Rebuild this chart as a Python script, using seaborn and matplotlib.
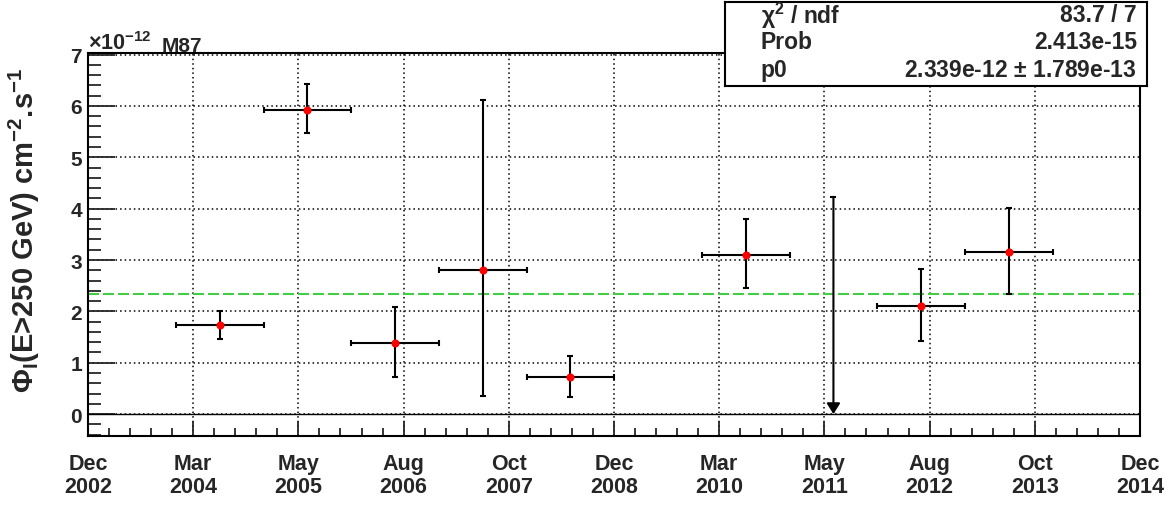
import numpy as np
import pandas as pd
import matplotlib
matplotlib.use("Agg")
import matplotlib.pyplot as plt
import matplotlib.ticker as mticker
import seaborn as sns

# ---- data (flux in units of 1e-12 cm^-2 s^-1, time in decimal years) ----
season_mid = [2004.42, 2005.42, 2006.42, 2007.42, 2008.42, 2010.42, 2012.42, 2013.42]
half_width = [0.5, 0.5, 0.5, 0.5, 0.5, 0.5, 0.5, 0.5]
flux = [1.74, 5.93, 1.38, 2.80, 0.72, 3.10, 2.10, 3.16]
flux_low = [1.47, 5.47, 0.73, 0.35, 0.34, 2.45, 1.42, 2.34]
flux_high = [2.01, 6.42, 2.08, 6.12, 1.14, 3.79, 2.83, 4.01]

ul_year = [2011.42]
ul_flux = [4.23]

# constant fit result
chi2, ndf = 83.7, 7
prob = 2.413e-15
p0, p0_err = 2.339e-12, 1.789e-13

x_start, x_step = 2002.917, 1.2
tick_labels = ["Dec\n2002", "Mar\n2004", "May\n2005", "Aug\n2006", "Oct\n2007", "Dec\n2008",
               "Mar\n2010", "May\n2011", "Aug\n2012", "Oct\n2013", "Dec\n2014"]

df = pd.DataFrame({"t": season_mid, "flux": flux})
yerr = [np.array(flux) - np.array(flux_low), np.array(flux_high) - np.array(flux)]

# ---- style ----
sns.set_style("white")
plt.rcParams["font.family"] = ["Liberation Sans", "DejaVu Sans"]
plt.rcParams["font.weight"] = "bold"
plt.rcParams["mathtext.default"] = "regular"

W, H = 1171, 506
fig = plt.figure(figsize=(W / 100, H / 100), dpi=100)
ax = fig.add_axes([88 / W, 1 - 436.7 / H, (1140 - 88) / W, (436.7 - 54) / H])

ax.grid(True, which="major", color="black", linestyle=(0, (1, 2)), linewidth=1.1)
ax.axhline(0, color="black", linewidth=1.0, zorder=2)
ax.axhline(p0 * 1e12, color="#44cc44", linestyle=(0, (5.3, 1.9)), linewidth=1.5, zorder=2)

ax.errorbar(season_mid, flux, xerr=half_width, yerr=yerr, fmt="none", ecolor="black",
            elinewidth=1.5, capsize=2.5, capthick=1.5, zorder=3)
sns.scatterplot(data=df, x="t", y="flux", color="red", s=34, linewidth=0, zorder=5, ax=ax)

# upper limit
ax.annotate("", xy=(ul_year[0], 0), xytext=(ul_year[0], ul_flux[0]),
            arrowprops=dict(arrowstyle="-|>,head_length=0.4,head_width=0.25", color="black",
                            lw=1.5, mutation_scale=16, shrinkA=0, shrinkB=0), zorder=4)
ax.plot(ul_year, ul_flux, marker="_", markersize=5, markeredgewidth=1.5, color="black", zorder=4)

# axes
ax.set_xlim(x_start, x_start + x_step * (len(tick_labels) - 1))
ax.set_ylim(-0.42, 7.03)
ax.xaxis.set_major_locator(mticker.FixedLocator([x_start + x_step * i for i in range(len(tick_labels))]))
ax.xaxis.set_minor_locator(mticker.AutoMinorLocator(5))
ax.set_xticklabels(tick_labels, fontsize=15.5, fontweight="bold", linespacing=1.15)
ax.yaxis.set_major_locator(mticker.MultipleLocator(1))
ax.yaxis.set_minor_locator(mticker.MultipleLocator(0.2))
ax.yaxis.set_major_formatter(mticker.FormatStrFormatter("%d"))
for lab in ax.get_yticklabels():
    lab.set_fontsize(15)
    lab.set_fontweight("bold")
ax.tick_params(axis="y", which="major", direction="in", length=19.5, width=1.3, pad=4.3, labelsize=15)
ax.tick_params(axis="y", which="minor", direction="in", length=9.5, width=1.3)
ax.tick_params(axis="x", which="major", direction="in", length=10.8, width=1.3, pad=12.5)
ax.tick_params(axis="x", which="minor", direction="in", length=5.8, width=1.3)
ax.tick_params(left=True, bottom=True, top=False, right=False, which="both")
for s in ax.spines.values():
    s.set_linewidth(1.5)
    s.set_color("black")

ax.set_xlabel("")
ax.set_ylabel(r"$\Phi_{I}$(E>250 GeV) cm$^{-2}$.s$^{-1}$", fontsize=21, fontweight="bold")
ax.yaxis.set_label_coords(-0.044, 0.54)

fig.text(88 / W, 1 - 50 / H, r"$\times$10$^{-12}$", fontsize=15.5, va="baseline")
fig.text(162 / W, 1 - 52 / H, "M87", fontsize=15, fontweight="bold", va="baseline")

# stats box
box = fig.add_axes([725 / W, 1 - 87 / H, 422 / W, 84 / H])
box.set_xticks([])
box.set_yticks([])
box.set_facecolor("white")
for s in box.spines.values():
    s.set_linewidth(1.5)
    s.set_color("black")
rows = [(r"$\chi^{2}$ / ndf", f"{chi2:.1f} / {ndf}"),
        ("Prob", f"{prob:.3e}"),
        ("p0", f"{p0:.3e} $\\pm$ {p0_err:.3e}")]
for (name, val), yy in zip(rows, [0.85, 0.53, 0.2]):
    box.text(0.085, yy, name, fontsize=16.5, fontweight="bold", va="center", ha="left")
    box.text(0.976, yy, val, fontsize=16.5, fontweight="bold", va="center", ha="right")

fig.savefig("out.png", dpi=100)
